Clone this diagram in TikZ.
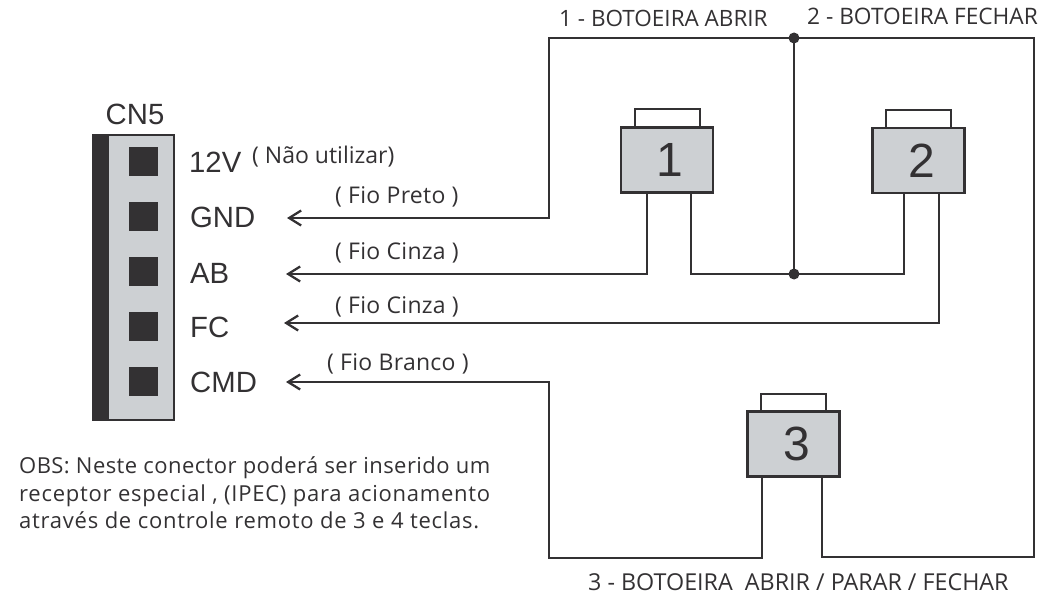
\documentclass[tikz,border=0pt]{standalone}
\usepackage{fontspec}
\setmainfont{Liberation Sans}
\newfontfamily\smallf{Open Sans}
\newfontfamily\wiref[LetterSpace=1.2]{Open Sans}
\newfontfamily\obsa[LetterSpace=2]{Open Sans}
\newfontfamily\obsb[LetterSpace=3.4]{Open Sans}
\definecolor{ink}{HTML}{333133}
\definecolor{panel}{HTML}{CDD0D3}
\usetikzlibrary{arrows.meta}
\tikzset{
 wire/.style={draw=ink,line width=2.3pt,line join=miter},
 arrowwire/.style={wire,{Straight Barb[length=12pt,width=15pt,line width=2.3pt]}-},
 btn/.style={draw=ink,fill=panel,line width=2.3pt,minimum width=92pt,minimum height=65pt,inner sep=0pt,font=\fontsize{48}{48}\selectfont,text=ink},
 tab/.style={draw=ink,fill=white,line width=2pt,minimum width=65pt,minimum height=18pt,inner sep=0pt},
 pinlabel/.style={anchor=base west,inner sep=0pt,text=ink,font=\fontsize{29.3}{29.3}\selectfont},
 note/.style={anchor=base west,inner sep=0pt,text=ink,font=\smallf\fontsize{22.7}{22.7}\selectfont},
 wirenote/.style={note,font=\wiref\fontsize{23}{23}\selectfont},
 obsone/.style={note,font=\obsa\fontsize{22}{22}\selectfont},
 obstwo/.style={note,font=\obsb\fontsize{22}{22}\selectfont},
 pad/.style={fill=ink,draw=none,minimum width=29pt,minimum height=29pt,inner sep=0pt},
 dot/.style={circle,fill=ink,draw=none,minimum size=11pt,inner sep=0pt},
}
\begin{document}
\begin{tikzpicture}[x=1pt,y=-1pt]
\useasboundingbox (0,0) rectangle (1043,596);
% connector
\node[draw=ink,fill=panel,line width=2pt,minimum width=81pt,minimum height=285pt,inner sep=0pt] (cn) at (133.5,277.5) {};
\fill[ink] (92,134) rectangle (109,421);
\node[pad] (p1) at (143.5,161.5) {};
\node[pad] (p2) at (143.5,216.5) {};
\node[pad] (p3) at (143.5,271.5) {};
\node[pad] (p4) at (143.5,326.5) {};
\node[pad] (p5) at (143.5,381.5) {};
\node[pinlabel] (lcn) at (105.5,125) {CN5};
\node[pinlabel] (l12) at (189,172) {12V};
\node[pinlabel] (lgnd) at (190,227) {GND};
\node[pinlabel] (lab) at (190,283) {AB};
\node[pinlabel] (lfc) at (190,337) {FC};
\node[pinlabel] (lcmd) at (190,392) {CMD};
% notes
\node[note,font=\smallf\fontsize{23}{23}\selectfont] (n0) at (252,164) {( Não utilizar)};
\node[wirenote] (n1) at (335,204) {( Fio Preto )};
\node[wirenote] (n2) at (335,259) {( Fio Cinza )};
\node[wirenote] (n3) at (335,313) {( Fio Cinza )};
\node[wirenote] (n4) at (327,370) {( Fio Branco )};
\node[note,font=\smallf\fontsize{22.5}{22.5}\selectfont] (t1) at (559,27) {1 - BOTOEIRA ABRIR};
\node[note] (t2) at (807,25) {2 - BOTOEIRA FECHAR};
\node[note,font=\smallf\fontsize{23.3}{23.3}\selectfont] (t3) at (588,590) {3 - BOTOEIRA\ \ ABRIR / PARAR / FECHAR};
\node[obsone] (o1) at (19,473) {OBS: Neste conector poderá ser inserido um};
\node[obstwo] (o2) at (19,501) {receptor especial , (IPEC) para acionamento};
\node[obstwo] (o3) at (19,528) {através de controle remoto de 3 e 4 teclas.};
% buttons
\node[tab] (tab1) at (667,118) {};
\node[tab] (tab2) at (918,119) {};
\node[tab] (tab3) at (793,403) {};
\node[btn] (b1) at (667,160) {\hspace*{6pt}1};
\node[btn] (b2) at (918.5,160.5) {\hspace*{7pt}2};
\node[btn] (b3) at (793.5,444) {\hspace*{7pt}3};
% free ends
\coordinate (egnd) at (287,218);
\coordinate (eab) at (286,274);
\coordinate (efc) at (284,323);
\coordinate (ecmd) at (286,382);
\node[dot] (jt) at (794,38) {};
\node[dot] (jb) at (794,274) {};
% wires
\draw[arrowwire] (egnd) -- (549,218) -- (549,38) -- (jt.center) -- (1034,38) -- (1034,557) -- (822,557) -- (b3.south -| 822,0);
\draw[wire] (jt.center) -- (jb.center);
\draw[arrowwire] (eab) -- (647,274) -- (b1.south -| 647,0);
\draw[wire] (b1.south -| 691,0) -- (691,274) -- (jb.center) -- (904,274) -- (b2.south -| 904,0);
\draw[arrowwire] (efc) -- (939,323) -- (b2.south -| 939,0);
\draw[arrowwire] (ecmd) -- (549,382) -- (549,558) -- (762,558) -- (b3.south -| 762,0);
\end{tikzpicture}
\end{document}
